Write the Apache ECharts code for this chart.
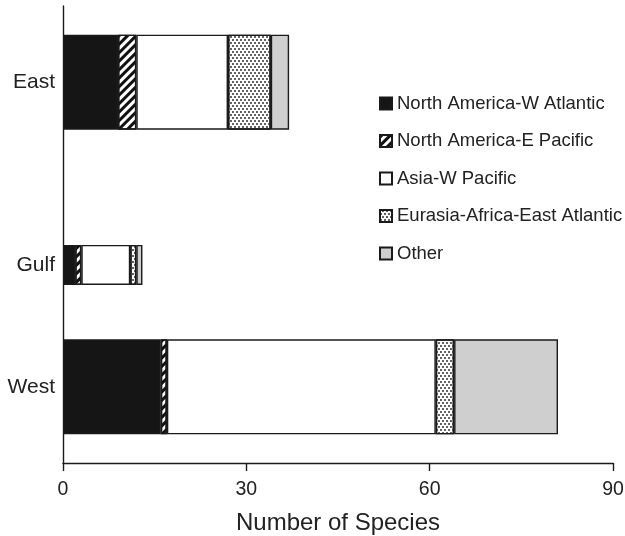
<!DOCTYPE html>
<html>
<head>
<meta charset="utf-8">
<script src="https://cdn.jsdelivr.net/npm/echarts@6/dist/echarts.min.js"></script>
<style>html,body{margin:0;padding:0;background:#fff}#c{width:625px;height:536px}</style>
</head>
<body>
<div id="c"></div>
<script>
// ---- data ----
const categories = ['East', 'Gulf', 'West'];
const seriesNames = ['North America-W Atlantic', 'North America-E Pacific', 'Asia-W Pacific', 'Eurasia-Africa-East Atlantic', 'Other'];
const northAmericaWAtlantic = [9, 2, 16];
const northAmericaEPacific = [3, 1, 1];
const asiaWPacific = [15, 8, 44];
const eurasiaAfricaEastAtlantic = [7, 1, 3];
const other = [3, 1, 17];
const xTicks = [0, 30, 60, 90];
const xAxisTitle = 'Number of Species';

// ---- layout (positions of the categories on a 15-slot band axis) ----
const nSlots = 15;
const slotOf = [2, 8, 12];
const narrowCategory = 1; // Gulf drawn with a thinner bar
const slotLabels = Array.from({length: nSlots}, () => '');
categories.forEach((c, i) => { slotLabels[slotOf[i]] = c; });

const values = [northAmericaWAtlantic, northAmericaEPacific, asiaWPacific, eurasiaAfricaEastAtlantic, other];
const FONT = 'Liberation Sans, Arial, Helvetica, sans-serif';
const border = {borderColor: '#1a1a1a', borderWidth: 1.4};
const styles = [
  {color: '#151515'},
  {color: '#ffffff', decal: {symbol: 'rect', symbolSize: 1, dashArrayX: [1, 0], dashArrayY: [3, 3], rotation: -Math.PI / 4, color: '#111'}},
  {color: '#ffffff'},
  {color: '#ffffff', decal: {symbol: 'rect', symbolSize: 0.9, dashArrayX: [[2, 2], [0, 2, 2, 0]], dashArrayY: [2, 1], color: '#555'}},
  {color: '#cfcfcf'}
];

function slotData(arr, wantNarrow) {
  const d = Array.from({length: nSlots}, () => null);
  arr.forEach((v, i) => {
    if ((i === narrowCategory) === wantNarrow) d[slotOf[i]] = v;
  });
  return d;
}

const series = [];
seriesNames.forEach((name, k) => {
  series.push({
    name, type: 'bar', stack: 'wide', yAxisIndex: 0, barWidth: 95,
    itemStyle: Object.assign({}, styles[k], border),
    data: slotData(values[k], false), animation: false
  });
});
seriesNames.forEach((name, k) => {
  series.push({
    name, type: 'bar', stack: 'narrow', yAxisIndex: 1, barWidth: 40,
    itemStyle: Object.assign({}, styles[k], border),
    data: slotData(values[k], true), animation: false
  });
});

const chart = echarts.init(document.getElementById('c'), null, {renderer: 'canvas'});
chart.setOption({
  animation: false,
  backgroundColor: '#ffffff',
  textStyle: {fontFamily: FONT},
  grid: {left: 63, right: 12, top: 6, bottom: 73, containLabel: false, outerBoundsMode: 'none'},
  legend: {
    data: seriesNames, orient: 'vertical', left: 379, top: 94, padding: 0,
    itemWidth: 12, itemHeight: 12, itemGap: 18.5,
    icon: 'rect',
    textStyle: {fontFamily: FONT, fontSize: 18.5, color: '#222'},
    selectedMode: false
  },
  xAxis: {
    type: 'value', min: xTicks[0], max: xTicks[xTicks.length - 1], interval: xTicks[1] - xTicks[0],
    axisLine: {show: true, lineStyle: {color: '#1a1a1a', width: 1.4}},
    axisTick: {show: true, length: 8, lineStyle: {color: '#1a1a1a', width: 1.4}},
    axisLabel: {fontFamily: FONT, fontSize: 19.5, color: '#222', margin: 17},
    splitLine: {show: false},
    name: xAxisTitle, nameLocation: 'middle', nameGap: 48,
    nameTextStyle: {fontFamily: FONT, fontSize: 24, color: '#222'}
  },
  yAxis: [
    {
      type: 'category', data: slotLabels, inverse: true,
      axisLine: {show: true, onZero: false, lineStyle: {color: '#1a1a1a', width: 1.4}},
      axisTick: {show: false},
      axisLabel: {fontFamily: FONT, fontSize: 21, color: '#222', margin: 8, interval: 0},
      splitLine: {show: false}
    },
    {
      type: 'category', data: slotLabels, inverse: true, show: false,
      position: 'left'
    }
  ],
  series
});
</script>
</body>
</html>
